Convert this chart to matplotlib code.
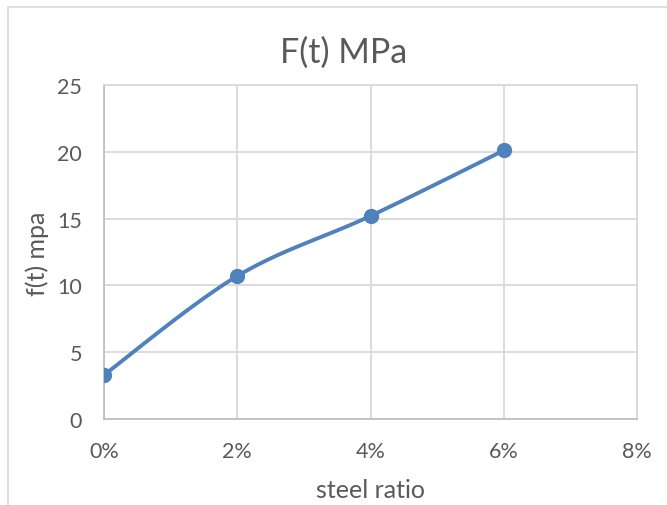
import numpy as np
import matplotlib.pyplot as plt
from matplotlib.patches import Rectangle
from matplotlib.ticker import FuncFormatter

# steel ratio (%) vs tensile strength
steel_ratio = [0, 2, 4, 6]
ft_mpa = [3.3, 10.7, 15.2, 20.1]
x_ticks = [0, 2, 4, 6, 8]
y_ticks = [0, 5, 10, 15, 20, 25]

txt = '#595959'
grid = '#d9d9d9'
blue = '#4f81bd'
plt.rcParams['font.family'] = ['Lato', 'DejaVu Sans']


def smooth(xs, ys, n=40):
    # Catmull-Rom style bezier smoothing, like a spreadsheet "smoothed line"
    xs = np.asarray(xs, float)
    ys = np.asarray(ys, float)
    px, py = [], []
    for i in range(len(xs) - 1):
        i0, i3 = max(i - 1, 0), min(i + 2, len(xs) - 1)
        p0 = np.array([xs[i], ys[i]])
        p3 = np.array([xs[i + 1], ys[i + 1]])
        c1 = p0 + (p3 - np.array([xs[i0], ys[i0]])) / 6
        c2 = p3 - (np.array([xs[i3], ys[i3]]) - p0) / 6
        t = np.linspace(0, 1, n)[:, None]
        pts = (1 - t) ** 3 * p0 + 3 * (1 - t) ** 2 * t * c1 + 3 * (1 - t) * t ** 2 * c2 + t ** 3 * p3
        px.extend(pts[:, 0])
        py.extend(pts[:, 1])
    return px, py


fig = plt.figure(figsize=(6.67, 5.06), dpi=100)
ax = fig.add_axes([0.156, 0.170, 0.799, 0.660])

sx, sy = smooth(steel_ratio, ft_mpa)
ax.plot(sx, sy, color=blue, lw=2.8, solid_capstyle='round', zorder=3)
ax.plot(steel_ratio, ft_mpa, 'o', color=blue, ms=10, zorder=4)

ax.set_xlim(0, 8)
ax.set_ylim(0, 25)
ax.set_xticks(x_ticks)
ax.set_yticks(y_ticks)
ax.xaxis.set_major_formatter(FuncFormatter(lambda v, p: f'{v:.0f}%'))
ax.grid(True, color=grid, lw=1.3)
ax.set_axisbelow(True)
for s in ax.spines.values():
    s.set_color(grid)
    s.set_linewidth(1.3)
ax.spines['left'].set_color('#bfbfbf')
ax.spines['bottom'].set_color('#bfbfbf')
ax.tick_params(length=0, colors=txt, labelsize=15.5)
ax.tick_params(axis='x', pad=16)
ax.tick_params(axis='y', pad=16)

# titles placed on the figure so they centre on the chart box
fig.text(344 / 667, 1 - 63 / 506, 'F(t) MPa', color=txt, fontsize=24.5, ha='center', va='baseline')
fig.text(370 / 667, 1 - 491 / 506, 'steel ratio', color=txt, fontsize=18, ha='center', va='center')
fig.text(37 / 667, 1 - 254 / 506, 'f(t) mpa', color=txt, fontsize=18, ha='center', va='center',
         rotation=90)

# chart frame
fig.patches.append(Rectangle((8 / 667, -0.1), 1.2, 1 - 8 / 506 + 0.1, transform=fig.transFigure,
                             fill=False, edgecolor='#d9d9d9', lw=1.2))

fig.savefig('out.png', dpi=100)
